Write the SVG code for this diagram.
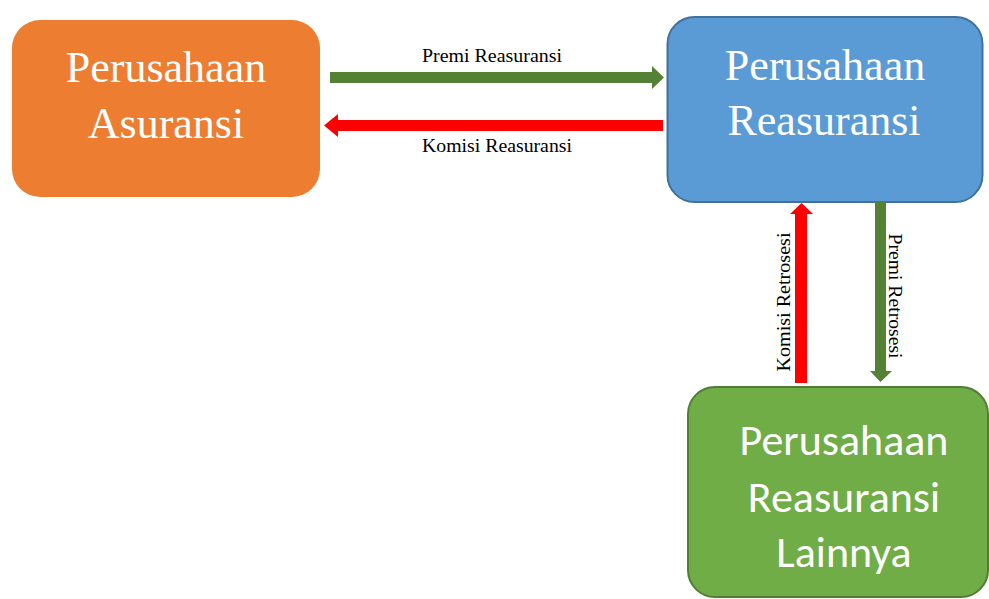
<svg xmlns="http://www.w3.org/2000/svg" width="989" height="599" viewBox="0 0 989 599">
<style>
.big{font-family:"Liberation Serif","Times New Roman",serif;font-size:44px;fill:#fff;text-anchor:middle}
.sans{font-family:Carlito,"Open Sans","Liberation Sans",sans-serif;font-size:44px;fill:#fff;text-anchor:middle}
.lbl{font-family:"Liberation Serif","Times New Roman",serif;font-size:18px;fill:#000;text-anchor:middle}
.g{fill:#548235}
.r{fill:#FF0000}
</style>
<rect width="989" height="599" fill="#fff"/>
<g id="asuransi">
<rect x="12" y="20" width="308" height="177" rx="28" fill="#ED7D31"/>
<text class="big" x="166" y="82">Perusahaan</text>
<text class="big" x="166" y="138">Asuransi</text>
</g>
<g id="reasuransi">
<rect x="667.5" y="17" width="315" height="185" rx="27" fill="#5B9BD5" stroke="#41719C" stroke-width="2"/>
<text class="big" x="825" y="80">Perusahaan</text>
<text class="big" x="824" y="135">Reasuransi</text>
</g>
<g id="lainnya">
<rect x="688" y="387" width="300" height="210" rx="27" fill="#70AD47" stroke="#507E32" stroke-width="2"/>
<text class="sans" x="844" y="455">Perusahaan</text>
<text class="sans" x="844" y="512">Reasuransi</text>
<text class="sans" x="844" y="567">Lainnya</text>
</g>
<g id="connectors">
<polygon class="g" points="330,72 652,72 652,66 664,77.5 652,89 652,83 330,83"/>
<polygon class="r" points="663,120 338,120 338,114 324,125.5 338,137 338,131 663,131"/>
<polygon class="r" points="795,383 795,214 790,214 801.5,203 813,214 807,214 807,383"/>
<polygon class="g" points="875,202 886,202 886,371 892,371 880.5,382 870,371 875,371"/>
<text class="lbl" x="492" y="62" textLength="140" lengthAdjust="spacingAndGlyphs">Premi Reasuransi</text>
<text class="lbl" x="497" y="152" textLength="150" lengthAdjust="spacingAndGlyphs">Komisi Reasuransi</text>
<text class="lbl" transform="translate(790,302) rotate(-90)" textLength="139" lengthAdjust="spacingAndGlyphs">Komisi Retrosesi</text>
<text class="lbl" transform="translate(889,296) rotate(90)" textLength="125" lengthAdjust="spacingAndGlyphs">Premi Retrosesi</text>
</g>
</svg>
